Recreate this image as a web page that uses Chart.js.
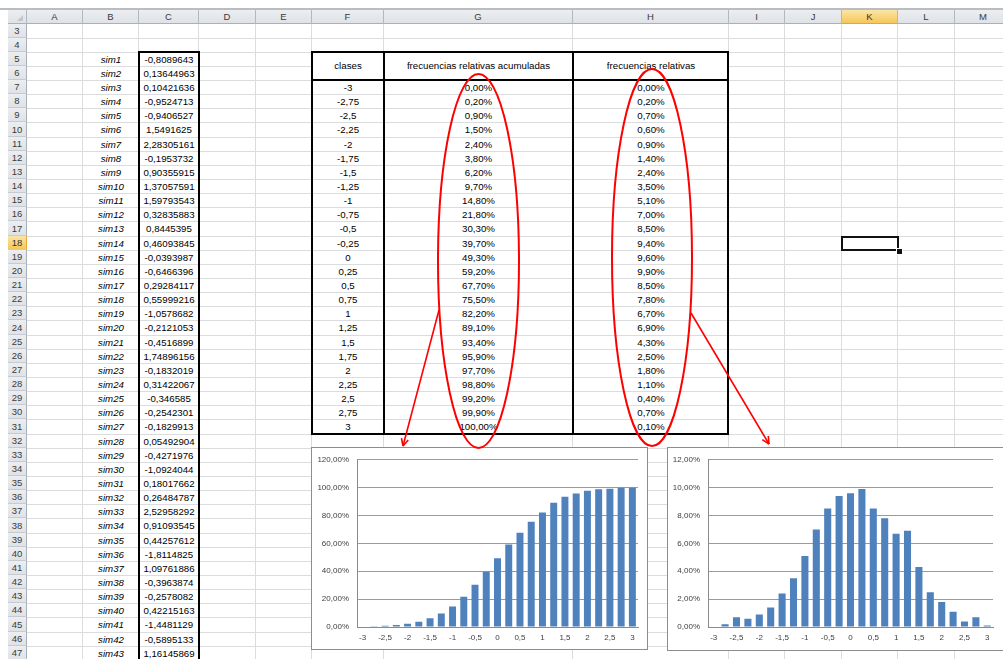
<!DOCTYPE html>
<html><head><meta charset="utf-8">
<script src="https://cdn.jsdelivr.net/npm/chart.js@4.4.0/dist/chart.umd.min.js"></script>
<style>
html,body{margin:0;padding:0;width:1003px;height:659px;overflow:hidden;background:#fff;font-family:"Liberation Sans",Arial,sans-serif;}
#sheet{position:absolute;left:0;top:0;width:1003px;height:659px;overflow:hidden;}
.vl{position:absolute;width:1px;background:#dadcdd;}
.hl{position:absolute;height:1px;background:#dadcdd;}
.cell{position:absolute;display:flex;align-items:center;justify-content:center;white-space:nowrap;font-size:9.7px;color:#000;}
.hdr{position:absolute;display:flex;align-items:center;justify-content:center;font-size:9.5px;color:#3a3a3a;background:linear-gradient(#eceef1,#dfe2e6);box-sizing:border-box;}
.sel{background:linear-gradient(#fbe5a6,#f5c75a)!important;color:#333;}
.box{position:absolute;box-sizing:border-box;}
canvas{position:absolute;}
</style>
</head><body>
<div id="sheet"></div>
<script>
// ---- data ----
const colNames = ["A","B","C","D","E","F","G","H","I","J","K","L","M"];
const simNames = ["sim1","sim2","sim3","sim4","sim5","sim6","sim7","sim8","sim9","sim10","sim11","sim12","sim13","sim14","sim15","sim16","sim17","sim18","sim19","sim20","sim21","sim22","sim23","sim24","sim25","sim26","sim27","sim28","sim29","sim30","sim31","sim32","sim33","sim34","sim35","sim36","sim37","sim38","sim39","sim40","sim41","sim42","sim43"];
const simValues = ["-0,8089643","0,13644963","0,10421636","-0,9524713","-0,9406527","1,5491625","2,28305161","-0,1953732","0,90355915","1,37057591","1,59793543","0,32835883","0,8445395","0,46093845","-0,0393987","-0,6466396","0,29284117","0,55999216","-1,0578682","-0,2121053","-0,4516899","1,74896156","-0,1832019","0,31422067","-0,346585","-0,2542301","-0,1829913","0,05492904","-0,4271976","-1,0924044","0,18017662","0,26484787","2,52958292","0,91093545","0,44257612","-1,8114825","1,09761886","-0,3963874","-0,2578082","0,42215163","-1,4481129","-0,5895133","1,16145869"];
const clases = ["-3","-2,75","-2,5","-2,25","-2","-1,75","-1,5","-1,25","-1","-0,75","-0,5","-0,25","0","0,25","0,5","0,75","1","1,25","1,5","1,75","2","2,25","2,5","2,75","3"];
const acumuladas = [0.0,0.2,0.9,1.5,2.4,3.8,6.2,9.7,14.8,21.8,30.3,39.7,49.3,59.2,67.7,75.5,82.2,89.1,93.4,95.9,97.7,98.8,99.2,99.9,100.0];
const relativas = [0.0,0.2,0.7,0.6,0.9,1.4,2.4,3.5,5.1,7.0,8.5,9.4,9.6,9.9,8.5,7.8,6.7,6.9,4.3,2.5,1.8,1.1,0.4,0.7,0.1];
const headF = "clases", headG = "frecuencias relativas acumuladas", headH = "frecuencias relativas";

// ---- layout ----
const colEdges = [27,83,139,199,256,312,384,573,729,785,842,898,955,1012];
const rowStart = 23.5, rowH = 14.14;
function rowTop(r){return Math.round(rowStart+(r-3)*rowH);}
function pct(v){return v.toFixed(2).replace('.',',')+'%';}
const sheet = document.getElementById('sheet');
function el(cls, css, txt){const d=document.createElement('div'); if(cls) d.className=cls; Object.assign(d.style,css); if(txt!==undefined) d.textContent=txt; sheet.appendChild(d); return d;}

// top line
el('', {position:'absolute',left:'0px',top:'8px',width:'1003px',height:'2px',background:'#b9bcc0'});
// column headers
el('hdr', {left:'8px',top:'10px',width:'19px',height:'14px',borderRight:'1px solid #b4b9c1',borderBottom:'1px solid #a9b0ba'});
el('', {position:'absolute',left:'17px',top:'15px',width:0,height:0,borderLeft:'6px solid transparent',borderBottom:'6px solid #c3c7cc'});
for(let i=0;i<colNames.length;i++){
  const d = el('hdr'+(colNames[i]==='K'?' sel':''), {left:colEdges[i]+'px',top:'10px',width:(colEdges[i+1]-colEdges[i])+'px',height:'14px',borderRight:'1px solid #b4b9c1',borderBottom:'1px solid '+(colNames[i]==='K'?'#e2a93a':'#a9b0ba')}, colNames[i]);
}
// gridlines
for(let r=4;r<=48;r++){ el('hl',{left:'27px',top:rowTop(r)+'px',width:'976px'}); }
for(let i=1;i<colEdges.length;i++){ el('vl',{left:(colEdges[i]-1)+'px',top:'24px',height:'640px'}); }
// row headers
for(let r=3;r<=47;r++){
  const t=rowTop(r), h=rowTop(r+1)-t;
  el('hdr'+(r===18?' sel':''), {left:'8px',top:t+'px',width:'19px',height:h+'px',borderBottom:'1px solid #c6cbd2',borderRight:'1px solid '+(r===18?'#e2a93a':'#a9b0ba'),fontSize:'9.5px'}, String(r));
}
// B and C columns
for(let i=0;i<simNames.length;i++){
  const r=5+i, t=rowTop(r), h=rowTop(r+1)-t;
  el('cell',{left:'83px',top:t+'px',width:'56px',height:h+'px',fontStyle:'italic'}, simNames[i]);
  el('cell',{left:'139px',top:t+'px',width:'60px',height:h+'px'}, simValues[i]);
}
el('box',{left:'138px',top:(rowTop(5)-1)+'px',width:'62px',height:'700px',border:'2px solid #000'});
// table
const tTop=rowTop(5)-1, tHead=rowTop(7), tBot=rowTop(32);
el('', {position:'absolute',left:'312px',top:tTop+'px',width:'416px',height:(tHead-tTop)+'px',background:'#fff'});
el('cell',{left:'312px',top:tTop+'px',width:'72px',height:(tHead-tTop)+'px'}, headF);
el('cell',{left:'384px',top:tTop+'px',width:'189px',height:(tHead-tTop)+'px'}, headG);
el('cell',{left:'573px',top:tTop+'px',width:'156px',height:(tHead-tTop)+'px'}, headH);
for(let i=0;i<clases.length;i++){
  const r=7+i, t=rowTop(r), h=rowTop(r+1)-t;
  el('cell',{left:'312px',top:t+'px',width:'72px',height:h+'px'}, clases[i]);
  el('cell',{left:'384px',top:t+'px',width:'189px',height:h+'px'}, pct(acumuladas[i]));
  el('cell',{left:'573px',top:t+'px',width:'156px',height:h+'px'}, pct(relativas[i]));
}
el('box',{left:'311px',top:tTop+'px',width:'418px',height:(tBot-tTop+1)+'px',border:'2px solid #000'});
el('', {position:'absolute',left:'311px',top:(tHead-1)+'px',width:'418px',height:'2px',background:'#000'});
el('', {position:'absolute',left:'383px',top:tTop+'px',width:'2px',height:(tBot-tTop)+'px',background:'#000'});
el('', {position:'absolute',left:'572px',top:tTop+'px',width:'2px',height:(tBot-tTop)+'px',background:'#000'});
// selected cell K18
el('box',{left:'841px',top:(rowTop(18))+'px',width:'58px',height:(rowTop(19)-rowTop(18)+1)+'px',border:'2px solid #111'});
el('', {position:'absolute',left:'896px',top:(rowTop(19)-2)+'px',width:'5px',height:'5px',background:'#111',border:'1px solid #fff'});

// ---- charts ----
function makeChart(left, top, w, h, padTop, padRight, yW, xH, data, max, step){
  el('', {position:'absolute',left:left+'px',top:top+'px',width:w+'px',height:h+'px',background:'#fff'});
  const c=document.createElement('canvas'); c.width=w; c.height=h;
  c.style.left=left+'px'; c.style.top=top+'px'; c.style.width=w+'px'; c.style.height=h+'px';
  sheet.appendChild(c);
  el('box',{left:left+'px',top:top+'px',width:w+'px',height:h+'px',border:'1px solid #8d8d8d'});
  new Chart(c.getContext('2d'), {
    type:'bar',
    data:{labels:clases, datasets:[{data:data, backgroundColor:'#4f81bd', borderColor:'#6f9bd1', borderWidth:0, barPercentage:0.62, categoryPercentage:1}]},
    options:{
      responsive:false, animation:false, devicePixelRatio:1,
      layout:{padding:{top:padTop,right:padRight,left:0,bottom:0}},
      plugins:{legend:{display:false},tooltip:{enabled:false}},
      scales:{
        x:{grid:{display:false,drawTicks:false}, border:{display:true,color:'#8a8a8a'},
           ticks:{autoSkip:false,maxRotation:0,minRotation:0,padding:6,color:'#404040',font:{family:'Liberation Sans',size:8},
             callback:function(v,i){return i%2===0?this.getLabelForValue(v):'';}},
           afterFit:function(s){s.height=xH;}},
        y:{min:0,max:max,grid:{color:'#9a9a9a',drawTicks:false}, border:{display:true,color:'#8a8a8a'},
           ticks:{stepSize:step,padding:8,color:'#404040',font:{family:'Liberation Sans',size:8},callback:(v)=>pct(v)},
           afterFit:function(s){s.width=yW;}}
      }
    }
  });
}
makeChart(311,447,337,203,10,10,46,23,acumuladas,120,20);
makeChart(667,447,345,204,11,19,41,24,relativas,12,2);

// ---- annotations ----
const svgNS='http://www.w3.org/2000/svg';
const svg=document.createElementNS(svgNS,'svg');
svg.setAttribute('width','1003'); svg.setAttribute('height','659');
svg.style.position='absolute'; svg.style.left='0'; svg.style.top='0';
function add(tag, attrs){const e=document.createElementNS(svgNS,tag); for(const k in attrs) e.setAttribute(k,attrs[k]); svg.appendChild(e); return e;}
add('ellipse',{cx:478.5,cy:261,rx:40.5,ry:187,fill:'none',stroke:'#ff0000','stroke-width':2});
add('ellipse',{cx:652,cy:257.5,rx:40,ry:188.5,fill:'none',stroke:'#ff0000','stroke-width':2});
function arrow(x1,y1,x2,y2){
  add('line',{x1:x1,y1:y1,x2:x2,y2:y2,stroke:'#ff0000','stroke-width':1.6});
  const a=Math.atan2(y2-y1,x2-x1), L=8;
  for(const s of [-0.45,0.45]){
    add('line',{x1:x2,y1:y2,x2:x2-L*Math.cos(a+s),y2:y2-L*Math.sin(a+s),stroke:'#ff0000','stroke-width':1.6});
  }
}
arrow(439,310,403,446);
arrow(691,313,769,444);
sheet.appendChild(svg);
</script>
</body></html>
